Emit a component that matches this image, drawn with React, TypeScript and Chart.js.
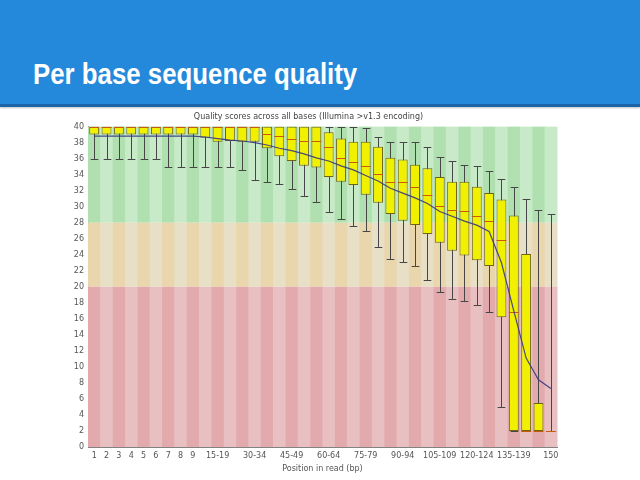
import React, { useEffect, useRef } from "react";
import { Chart, registerables } from "chart.js";

Chart.register(...registerables);

const CATEGORIES = [
  "1", "2", "3", "4", "5", "6", "7", "8", "9",
  "10-14", "15-19", "20-24", "25-29", "30-34", "35-39", "40-44", "45-49",
  "50-54", "55-59", "60-64", "65-69", "70-74", "75-79", "80-84", "85-89",
  "90-94", "95-99", "100-104", "105-109", "110-114", "115-119", "120-124",
  "125-129", "130-134", "135-139", "140-144", "145-149", "150",
];

const SHOWN_LABELS = [
  "1", "2", "3", "4", "5", "6", "7", "8", "9", "15-19", "30-34", "45-49",
  "60-64", "75-79", "90-94", "105-109", "120-124", "135-139", "150",
];

const Q1 = [
  39, 39, 39, 39, 39, 39, 39, 39, 39,
  38.6, 38.1, 38.2, 38.1, 38.1, 37.3, 36.3, 35.7, 35.1, 34.9,
  33.7, 33.1, 32.7, 31.5, 30.5, 29.1, 28.25, 27.7, 26.6, 25.5,
  24.5, 23.9, 23.3, 22.6, 16.2, 2, 2, 2, 2,
];

const Q3 = [
  40, 40, 40, 40, 40, 40, 40, 40, 40,
  40, 40, 40, 40, 40, 40, 40, 40, 40, 40,
  39.3, 38.5, 38.1, 38.1, 37.5, 36.1, 35.9, 35.25, 34.8, 33.7,
  33.1, 33.1, 32.5, 31.7, 30.9, 28.9, 24.1, 5.5, 2,
];

const MEDIAN = [
  40, 40, 40, 40, 40, 40, 40, 40, 40,
  40, 40, 40, 40, 40, 39.1, 38.8, 38.4, 38.2, 38.2,
  37.5, 36.1, 35.6, 35.1, 34.1, 33.1, 33.1, 32.5, 31.5, 30.1,
  29.6, 29.5, 28.9, 28.2, 25.9, 16.8, 2, 2, 2,
];

const WHISKER_LOW = [
  36, 36, 36, 36, 36, 36, 35, 35, 35,
  35, 35, 35, 34.6, 33.3, 33.1, 32.8, 32.25, 31.3, 30.6,
  29.4, 28.5, 27.6, 27.0, 25.0, 23.5, 23.1, 22.6, 20.9, 19.4,
  18.5, 18.25, 17.7, 16.8, 5.0, 2, 2, 2, 2,
];

const WHISKER_HIGH = [
  40, 40, 40, 40, 40, 40, 40, 40, 40,
  40, 40, 40, 40, 40, 40, 40, 40, 40, 40,
  40, 40, 40, 39.8, 38.7, 38.1, 38.1, 38.1, 37.5, 36.2,
  35.7, 35.25, 35.1, 34.5, 33.5, 32.5, 30.9, 29.6, 29.1,
];

const MEAN = [
  38.8, 38.8, 38.8, 38.8, 38.8, 38.8, 38.8, 38.8, 38.8,
  38.7, 38.5, 38.3, 38.2, 38.0, 37.7, 37.3, 37.0, 36.6, 36.1,
  35.7, 35.1, 34.6, 33.9, 33.2, 32.3, 31.7, 31.1, 30.4, 29.4,
  28.8, 28.2, 27.7, 26.9, 23.0, 17.0, 11.1, 8.4, 7.3,
];

// quality zones: [from, to, darkStripe, lightStripe]
const ZONES: [number, number, string, string][] = [
  [28, 40, "rgb(176,224,176)", "rgb(200,234,200)"],
  [20, 28, "rgb(234,214,172)", "rgb(231,223,198)"],
  [0, 20, "rgb(227,170,174)", "rgb(232,192,194)"],
];

const boxPlugin = {
  id: "fastqcBox",
  beforeDatasetsDraw(chart: any) {
    const { ctx, chartArea, scales } = chart;
    const xs = scales.x;
    const ys = scales.y;
    const w = chartArea.width / CATEGORIES.length;
    ctx.save();
    CATEGORIES.forEach((_, i) => {
      const cx = xs.getPixelForValue(i);
      ZONES.forEach(([from, to, dark, light]) => {
        const yTop = ys.getPixelForValue(to);
        const yBot = ys.getPixelForValue(from);
        ctx.fillStyle = i % 2 === 0 ? dark : light;
        ctx.fillRect(cx - w / 2, yTop, w + 0.5, yBot - yTop);
      });
    });
    // whiskers
    ctx.strokeStyle = "rgb(70,70,70)";
    ctx.lineWidth = 1;
    const cap = w * 0.62;
    CATEGORIES.forEach((_, i) => {
      const cx = Math.round(xs.getPixelForValue(i)) + 0.5;
      const yl = Math.round(ys.getPixelForValue(WHISKER_LOW[i])) + 0.5;
      const yh = Math.round(ys.getPixelForValue(WHISKER_HIGH[i])) + 0.5;
      ctx.beginPath();
      ctx.moveTo(cx, yl);
      ctx.lineTo(cx, yh);
      ctx.moveTo(cx - cap / 2, yl);
      ctx.lineTo(cx + cap / 2, yl);
      ctx.moveTo(cx - cap / 2, yh);
      ctx.lineTo(cx + cap / 2, yh);
      ctx.stroke();
    });
    ctx.restore();
  },
  afterDatasetDraw(chart: any, args: any) {
    if (args.index !== 0) return;
    const { ctx, scales } = chart;
    const meta = chart.getDatasetMeta(0);
    ctx.save();
    ctx.strokeStyle = "rgb(200,90,10)";
    ctx.lineWidth = 1;
    meta.data.forEach((bar: any, i: number) => {
      const y = Math.round(scales.y.getPixelForValue(MEDIAN[i])) + 0.5;
      const half = bar.width / 2;
      ctx.beginPath();
      ctx.moveTo(bar.x - half, y);
      ctx.lineTo(bar.x + half, y);
      ctx.stroke();
    });
    ctx.restore();
  },
};

export default function App() {
  const canvasRef = useRef<HTMLCanvasElement | null>(null);

  useEffect(() => {
    if (!canvasRef.current) return;
    const chart = new Chart(canvasRef.current, {
      type: "bar",
      data: {
        labels: CATEGORIES,
        datasets: [
          {
            type: "bar",
            label: "Inter-quartile range",
            data: Q1.map((q, i) => [q, Q3[i]]) as any,
            backgroundColor: "rgb(240,240,0)",
            borderColor: "rgb(110,100,20)",
            borderWidth: 1,
            borderSkipped: false,
            categoryPercentage: 1,
            barPercentage: 0.8,
            order: 2,
          },
          {
            type: "line",
            label: "Mean",
            data: MEAN,
            borderColor: "rgba(55,55,130,0.9)",
            borderWidth: 1.2,
            pointRadius: 0,
            tension: 0,
            order: 1,
          },
        ],
      },
      options: {
        animation: false,
        responsive: false,
        maintainAspectRatio: false,
        layout: { padding: { left: 60, right: 83, top: 0, bottom: 0 } },
        plugins: {
          legend: { display: false },
          tooltip: { enabled: false },
          title: {
            display: true,
            text: "Quality scores across all bases (Illumina >v1.3 encoding)",
            color: "#444",
            font: { family: "DejaVu Sans", size: 8, weight: "normal" },
            padding: { top: 6, bottom: 5 },
          },
        },
        scales: {
          x: {
            type: "category",
            offset: true,
            grid: { display: false, drawTicks: false },
            border: { display: true, color: "rgb(130,130,130)", width: 1 },
            ticks: {
              autoSkip: false,
              maxRotation: 0,
              minRotation: 0,
              padding: 4,
              color: "#555",
              font: { family: "DejaVu Sans", size: 8 },
              callback: (_v: any, i: number) =>
                SHOWN_LABELS.includes(CATEGORIES[i]) ? CATEGORIES[i] : "",
            },
            title: {
              display: true,
              text: "Position in read (bp)",
              color: "#555",
              font: { family: "DejaVu Sans", size: 8 },
              padding: { top: 2, bottom: 6 },
            },
            afterFit: (s: any) => {
              s.height = 33;
            },
          },
          y: {
            min: 0,
            max: 40,
            grid: { display: false, drawTicks: false },
            border: { display: true, color: "rgb(130,130,130)", width: 1 },
            ticks: {
              stepSize: 2,
              padding: 4,
              color: "#555",
              font: { family: "DejaVu Sans", size: 8 },
            },
            afterFit: (s: any) => {
              s.width = 28;
            },
          },
        },
      },
      plugins: [boxPlugin],
    });
    return () => chart.destroy();
  }, []);

  return (
    <div
      style={{
        position: "absolute",
        left: 0,
        top: 0,
        width: 640,
        height: 480,
        overflow: "hidden",
        background: "#fff",
      }}
    >
      <div
        style={{
          position: "absolute",
          left: 0,
          top: 0,
          width: 640,
          height: 104,
          background: "rgb(36,137,218)",
          borderBottom: "3px solid rgb(28,100,170)",
          boxShadow: "0 1px 2px rgba(0,0,0,0.25)",
        }}
      >
        <div
          style={{
            position: "absolute",
            left: 33,
            top: 60,
            fontFamily: "'Liberation Sans', Arial, sans-serif",
            fontWeight: "bold",
            fontSize: 29,
            lineHeight: 1,
            color: "#fff",
            whiteSpace: "nowrap",
            transform: "scaleX(0.89)",
            transformOrigin: "left top",
          }}
        >
          Per base sequence quality
        </div>
      </div>
      <canvas
        ref={canvasRef}
        width={640}
        height={374}
        style={{ position: "absolute", left: 0, top: 106, width: 640, height: 374 }}
      />
    </div>
  );
}
